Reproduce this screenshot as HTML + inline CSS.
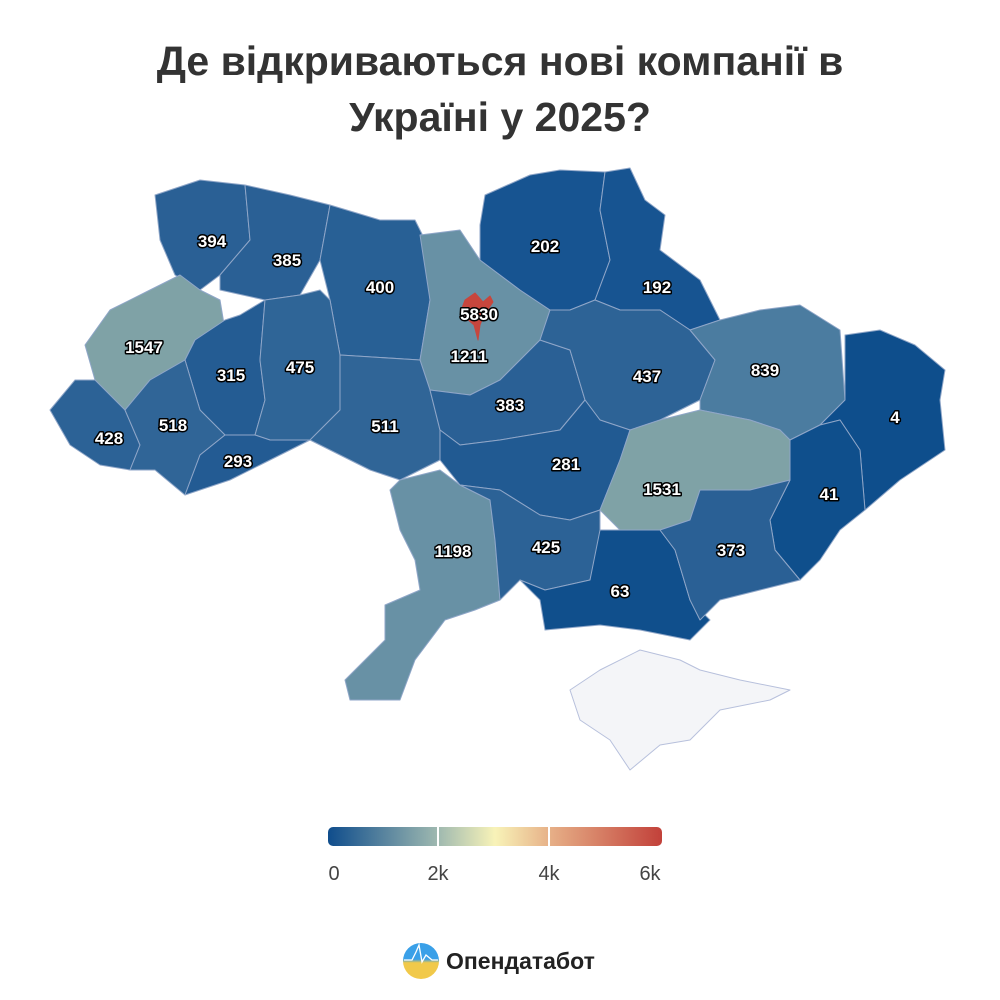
<!DOCTYPE html>
<html><head><meta charset="utf-8"><style>
html,body{margin:0;padding:0;background:#fff;}
body{width:1000px;height:1000px;overflow:hidden;position:relative;font-family:"Liberation Sans",sans-serif;}
.t{position:absolute;left:0;width:1000px;text-align:center;font-weight:bold;font-size:41px;color:#333;}
</style></head><body>
<div class="t" style="top:38px;">Де відкриваються нові компанії в</div>
<div class="t" style="top:94px;">Україні у 2025?</div>
<svg width="1000" height="1000" style="position:absolute;left:0;top:0" xmlns="http://www.w3.org/2000/svg">
<defs>
<linearGradient id="g" x1="0" x2="1" y1="0" y2="0">
<stop offset="0" stop-color="#0f4d8c"/><stop offset="0.33" stop-color="#9fb9b0"/><stop offset="0.5" stop-color="#f8f3b8"/><stop offset="0.67" stop-color="#e6ae86"/><stop offset="1" stop-color="#c2413a"/>
</linearGradient>
<linearGradient id="lg" x1="0" x2="0" y1="0" y2="1"><stop offset="0.45" stop-color="#3aa0e8"/><stop offset="0.55" stop-color="#f1c94a"/></linearGradient>
</defs>
<g stroke="#8fa6c8" stroke-width="1" stroke-linejoin="round">
<polygon fill="#2a6095" points="155,195 200,180 245,185 250,240 220,275 200,290 175,275 160,240"/>
<polygon fill="#2a6095" points="245,185 290,195 330,205 320,260 300,295 265,300 220,290 220,275 250,240"/>
<polygon fill="#286095" points="330,205 380,220 415,220 425,240 430,300 420,360 340,355 330,300 320,260"/>
<polygon fill="#6891a5" points="420,235 460,230 480,260 520,290 550,310 540,340 500,380 470,395 430,390 420,360 430,300"/>
<polygon fill="#175491" points="485,195 530,175 560,170 605,172 600,210 610,260 595,300 570,310 550,310 520,290 480,260 480,225"/>
<polygon fill="#175491" points="605,172 630,168 645,200 665,215 660,250 700,280 720,320 690,330 660,310 620,310 595,300 610,260 600,210"/>
<polygon fill="#7fa2a6" points="85,345 110,310 150,290 180,275 200,290 220,300 225,330 195,340 185,360 150,380 125,410 95,380"/>
<polygon fill="#245c93" points="225,320 240,315 265,300 260,360 265,400 255,435 225,435 200,410 185,360 195,340"/>
<polygon fill="#2f6597" points="265,300 300,295 320,290 330,300 340,355 340,410 310,440 270,440 255,435 265,400 260,360"/>
<polygon fill="#306597" points="340,355 420,360 430,390 440,430 440,460 400,480 370,470 330,450 310,440 340,410"/>
<polygon fill="#2c6296" points="50,410 75,380 95,380 125,410 140,445 130,470 100,465 70,445"/>
<polygon fill="#306597" points="125,410 150,380 185,360 200,410 225,435 200,455 185,495 155,470 130,470 140,445"/>
<polygon fill="#235b93" points="185,495 200,455 225,435 255,435 270,440 310,440 260,465 230,480"/>
<polygon fill="#6891a5" points="400,480 440,470 460,485 490,500 495,540 500,600 475,610 445,620 415,660 400,700 350,700 345,680 385,640 385,605 420,590 415,560 400,530 390,490"/>
<polygon fill="#2a6095" points="430,390 470,395 500,380 540,340 570,350 585,400 560,430 500,440 460,445 440,430"/>
<polygon fill="#2d6396" points="550,310 570,310 595,300 620,310 660,310 690,330 715,360 700,400 660,420 630,430 600,420 585,400 570,350 540,340"/>
<polygon fill="#4b7ca0" points="690,330 720,320 760,310 800,305 840,330 845,400 820,425 790,440 780,430 750,420 700,410 700,400 715,360"/>
<polygon fill="#0e4e8c" points="845,335 880,330 915,345 945,370 940,400 945,450 900,480 865,510 860,450 840,420 820,425 845,400"/>
<polygon fill="#0f4f8c" points="820,425 840,420 860,450 865,510 840,530 820,560 800,580 775,550 770,520 790,480 790,440"/>
<polygon fill="#215a92" points="440,460 440,430 460,445 500,440 560,430 585,400 600,420 630,430 620,460 600,510 570,520 540,515 500,490 460,485"/>
<polygon fill="#7fa2a6" points="620,460 630,430 660,420 700,410 750,420 780,430 790,440 790,480 750,490 700,490 690,520 660,530 620,530 600,510"/>
<polygon fill="#2c6296" points="460,485 500,490 540,515 570,520 600,510 600,540 590,580 545,590 520,580 500,600 495,540 490,500"/>
<polygon fill="#104f8c" points="600,530 620,530 660,530 675,550 690,600 710,620 690,640 640,630 600,625 545,630 540,600 520,580 545,590 590,580"/>
<polygon fill="#2a6095" points="690,520 700,490 750,490 790,480 770,520 775,550 800,580 760,590 720,600 700,620 690,600 675,550 660,530"/>
<polygon fill="#f4f5f8" stroke="#b7c0dc" points="570,690 600,670 640,650 680,660 700,670 740,680 790,690 770,700 720,710 690,740 660,745 630,770 610,740 580,720"/>
<polygon fill="#c7463d" stroke="#c7463d" points="465,300 475,293 483,302 490,296 493,302 484,315 480,325 478,340 474,325 466,318 462,308"/>
</g>
<g font-family="Liberation Sans, sans-serif" font-weight="bold" font-size="17" fill="#fff" stroke="#000" stroke-width="3" paint-order="stroke" text-anchor="middle" stroke-linejoin="round">
<text x="212" y="247">394</text><text x="287" y="266">385</text><text x="380" y="293">400</text>
<text x="545" y="252">202</text><text x="657" y="293">192</text><text x="479" y="320">5830</text>
<text x="144" y="353">1547</text><text x="231" y="381">315</text><text x="300" y="373">475</text>
<text x="469" y="362">1211</text><text x="647" y="382">437</text><text x="765" y="376">839</text>
<text x="895" y="423">4</text><text x="510" y="411">383</text><text x="385" y="432">511</text>
<text x="109" y="444">428</text><text x="173" y="431">518</text><text x="238" y="467">293</text>
<text x="566" y="470">281</text><text x="662" y="495">1531</text><text x="829" y="500">41</text>
<text x="453" y="557">1198</text><text x="546" y="553">425</text><text x="731" y="556">373</text>
<text x="620" y="597">63</text>
</g>
<rect x="328" y="827" width="334" height="19" rx="5" fill="url(#g)"/>
<line x1="438" y1="827" x2="438" y2="846" stroke="#fff" stroke-width="2"/>
<line x1="549" y1="827" x2="549" y2="846" stroke="#fff" stroke-width="2"/>
<g font-family="Liberation Sans, sans-serif" font-size="20" fill="#444" text-anchor="middle">
<text x="334" y="880">0</text><text x="438" y="880">2k</text><text x="549" y="880">4k</text><text x="650" y="880">6k</text>
</g>
<circle cx="421" cy="961" r="18" fill="url(#lg)"/>
<polyline points="404,960 412,960 416,952 419,945 422,962 426,955 432,960 438,960" fill="none" stroke="#fff" stroke-width="1.3"/>
<text x="446" y="969" font-family="Liberation Sans, sans-serif" font-weight="bold" font-size="23" fill="#222">Опендатабот</text>
</svg>
</body></html>
